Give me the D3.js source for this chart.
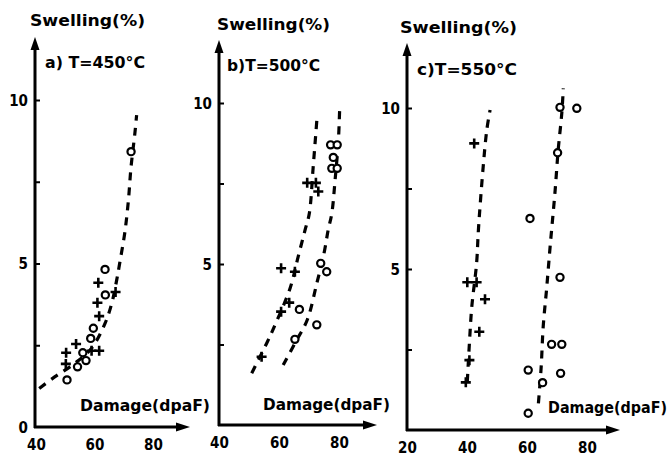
<!DOCTYPE html>
<html><head><meta charset="utf-8">
<script src="https://cdn.jsdelivr.net/npm/d3@7"></script>
<style>
html,body{margin:0;padding:0;background:#fff;}
svg text{font-family:"DejaVu Sans Condensed","DejaVu Sans",sans-serif;font-weight:bold;fill:#000;}
</style></head>
<body>
<svg id="chart" width="669" height="459"></svg>
<script>
// ---- data ----
const panelTitles = ["a) T=450°C", "b)T=500°C", "c)T=550°C"];
const yTitle = "Swelling(%)";
const xTitle = "Damage(dpaF)";
const xTickLabelsA = [40, 60, 80];
const xTickLabelsB = [40, 60, 80];
const xTickLabelsC = [20, 40, 60, 80];
const yTickValues = [0, 2.5, 5, 7.5, 10];

const aCircles = [[50.6,1.44],[54.2,1.84],[57.1,2.03],[56.0,2.27],[58.7,2.71],[59.6,3.02],[63.7,4.04],[63.6,4.82],[72.5,8.42]];
const aPlus = [[50.3,2.27],[50.2,1.93],[53.7,2.54],[59.0,2.33],[61.6,2.33],[61.6,3.39],[61.0,3.80],[61.3,4.41],[67.2,4.13]];
const aCurve = [[41.1,1.18],[46.5,1.54],[53.3,1.95],[59.0,2.41],[63.6,3.17],[65.9,3.78],[67.6,4.50],[69.0,5.21],[70.4,5.97],[71.6,6.94],[72.5,7.96],[73.8,8.98],[74.4,9.54]];

const bCircles = [[73.9,5.02],[75.9,4.76],[66.8,3.59],[72.6,3.11],[65.3,2.66],[77.2,8.70],[79.4,8.70],[78.1,8.31],[77.6,7.97],[79.4,7.97]];
const bPlus = [[69.4,7.52],[72.3,7.52],[73.1,7.25],[60.7,4.87],[65.3,4.76],[63.4,3.80],[60.7,3.52],[54.2,2.12]];
const bCurvePlus = [[50.9,1.61],[55.9,2.54],[58.4,3.05],[63.7,4.25],[66.4,5.23],[68.7,6.06],[70.1,6.57],[71.4,8.02],[72.6,9.45]];
const bCurveCircle = [[61.4,1.86],[65.3,2.54],[69.4,3.26],[72.6,4.40],[75.0,5.33],[76.4,6.06],[77.6,6.57],[78.7,7.61],[79.8,8.85],[80.2,9.75]];

const cCircles = [[71.0,10.02],[76.6,9.99],[70.2,8.61],[61.0,6.57],[71.0,4.74],[68.2,2.66],[71.6,2.66],[60.4,1.86],[71.2,1.76],[65.2,1.47],[60.4,0.52]];
const cPlus = [[42.4,8.90],[40.1,4.59],[43.2,4.59],[46.0,4.06],[44.1,3.05],[40.8,2.17],[39.6,1.48]];
const cCurvePlus = [[40.1,1.50],[40.8,2.69],[41.6,3.83],[43.2,5.18],[43.8,6.21],[45.4,8.18],[46.6,9.32],[47.7,9.94]];
const cCurveCircle = [[63.8,0.83],[64.7,1.92],[65.4,3.21],[66.6,4.45],[67.7,5.69],[68.2,6.21],[69.3,7.35],[70.4,8.70],[71.6,9.84],[72.1,10.61]];

// ---- layout (positions only) ----
const panels = [
  {title: panelTitles[0], xdom:[40,80], xr:[36,153], yr:[427,100], axX:35, axY:427, topY:37, rightX:190,
   xticks:xTickLabelsA, yLabelVals:[0,5,10], circles:aCircles, plus:aPlus, curves:[aCurve],
   yTitlePos:[30,26,115], titlePos:[45,68,100], xTitlePos:[80,411,130]},
  {title: panelTitles[1], xdom:[40,80], xr:[219,339], yr:[425,103], axX:219, axY:425, topY:40, rightX:377,
   xticks:xTickLabelsB, yLabelVals:[5,10], circles:bCircles, plus:bPlus, curves:[bCurvePlus,bCurveCircle],
   yTitlePos:[217,30,113], titlePos:[227,71,93], xTitlePos:[263,410,127]},
  {title: panelTitles[2], xdom:[20,80], xr:[407,587], yr:[430,108], axX:407, axY:430, topY:43, rightX:620,
   xticks:xTickLabelsC, yLabelVals:[5,10], circles:cCircles, plus:cPlus, curves:[cCurvePlus,cCurveCircle],
   yTitlePos:[400,33,117], titlePos:[417,75,100], xTitlePos:[548,413,119]}
];

const svg = d3.select("#chart");

panels.forEach(p => {
  const x = d3.scaleLinear().domain(p.xdom).range(p.xr);
  const y = d3.scaleLinear().domain([0,10]).range(p.yr);
  const g = svg.append("g");

  // y ticks (pointing inward)
  const yAxis = d3.axisLeft(y).tickValues(yTickValues).tickSize(-5)
    .tickFormat(d => p.yLabelVals.includes(d) ? d : "");
  const ya = g.append("g").attr("transform", `translate(${p.axX},0)`).call(yAxis);
  ya.select(".domain").remove();
  ya.selectAll(".tick line").attr("stroke","#000").attr("stroke-width",2);
  ya.selectAll(".tick text").attr("font-size",15).attr("x",-7).attr("dy","0.35em").attr("text-anchor","end");
  ya.selectAll(".tick").filter(d => d === 0).select("line").remove();

  // x tick labels
  const xAxis = d3.axisBottom(x).tickValues(p.xticks).tickSize(0).tickFormat(d => d);
  const xa = g.append("g").attr("transform", `translate(0,${p.axY})`).call(xAxis);
  xa.select(".domain").remove();
  xa.selectAll(".tick text").attr("font-size",15).attr("y",12).attr("dy","0.71em");

  // axis lines with arrows
  g.append("line").attr("x1",p.axX).attr("y1",p.axY+1).attr("x2",p.axX).attr("y2",p.topY+8)
    .attr("stroke","#000").attr("stroke-width",3);
  g.append("line").attr("x1",p.axX-1).attr("y1",p.axY).attr("x2",p.rightX-8).attr("y2",p.axY)
    .attr("stroke","#000").attr("stroke-width",3);
  g.append("path").attr("d",`M${p.axX},${p.topY} L${p.axX-4.5},${p.topY+13} L${p.axX+4.5},${p.topY+13}Z`).attr("fill","#000");
  g.append("path").attr("d",`M${p.rightX},${p.axY} L${p.rightX-14},${p.axY-4.5} L${p.rightX-14},${p.axY+4.5}Z`).attr("fill","#000");

  // texts
  g.append("text").attr("x",p.yTitlePos[0]).attr("y",p.yTitlePos[1]).attr("font-size",15)
    .attr("textLength",p.yTitlePos[2]).attr("lengthAdjust","spacingAndGlyphs").text(yTitle);
  g.append("text").attr("x",p.titlePos[0]).attr("y",p.titlePos[1]).attr("font-size",15)
    .attr("textLength",p.titlePos[2]).attr("lengthAdjust","spacingAndGlyphs").text(p.title);
  g.append("text").attr("x",p.xTitlePos[0]).attr("y",p.xTitlePos[1]).attr("font-size",15)
    .attr("textLength",p.xTitlePos[2]).attr("lengthAdjust","spacingAndGlyphs").text(xTitle);

  // dashed curves
  const line = d3.line().x(d => x(d[0])).y(d => y(d[1])).curve(d3.curveCatmullRom.alpha(0.5));
  p.curves.forEach(c => {
    g.append("path").attr("d", line(c)).attr("fill","none").attr("stroke","#000")
      .attr("stroke-width",3.2).attr("stroke-dasharray","8,7");
  });

  // markers
  g.selectAll(".circ").data(p.circles).enter().append("circle")
    .attr("cx", d => x(d[0])).attr("cy", d => y(d[1])).attr("r",3.6)
    .attr("fill","#fff").attr("stroke","#000").attr("stroke-width",2.2);
  g.selectAll(".plus").data(p.plus).enter().append("path")
    .attr("d", d => { const cx=x(d[0]), cy=y(d[1]); return `M${cx-5},${cy}H${cx+5}M${cx},${cy-5}V${cy+5}`; })
    .attr("stroke","#000").attr("stroke-width",2.6).attr("fill","none");
});
</script>
</body></html>
